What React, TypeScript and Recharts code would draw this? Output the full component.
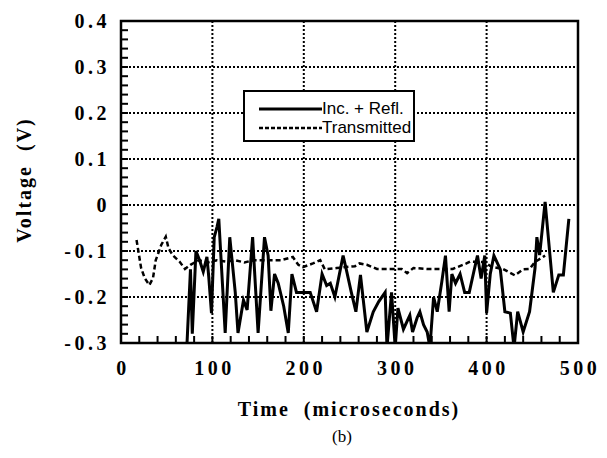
import React from 'react';
import {
  LineChart,
  Line,
  XAxis,
  YAxis,
  CartesianGrid,
  ReferenceArea,
  Legend,
} from 'recharts';

// Inc. + Refl. (solid)
const incTime = [72, 76, 78, 82, 86, 90, 94, 96, 99, 102, 105, 107, 114, 119, 125, 128, 134, 138, 144, 150, 157, 161, 164, 168, 172, 178, 183, 187, 192, 200, 207, 214, 220, 225, 229, 234, 243, 247, 252, 257, 262, 269, 276, 282, 289, 291, 296, 300, 303, 309, 316, 319, 324, 327, 331, 335, 338, 342, 346, 351, 355, 359, 362, 366, 371, 376, 381, 386, 390, 394, 398, 400, 404, 408, 415, 420, 426, 430, 434, 440, 447, 453, 455, 458, 464, 473, 479, 484, 490];
const incVolt = [-0.31, -0.14, -0.28, -0.1, -0.12, -0.145, -0.113, -0.156, -0.235, -0.07, -0.048, -0.03, -0.278, -0.07, -0.19, -0.278, -0.207, -0.228, -0.07, -0.278, -0.07, -0.11, -0.23, -0.15, -0.17, -0.22, -0.278, -0.15, -0.19, -0.19, -0.19, -0.232, -0.15, -0.175, -0.17, -0.2, -0.11, -0.145, -0.19, -0.232, -0.152, -0.276, -0.232, -0.21, -0.19, -0.31, -0.19, -0.31, -0.224, -0.27, -0.24, -0.276, -0.245, -0.232, -0.26, -0.276, -0.31, -0.2, -0.232, -0.167, -0.11, -0.232, -0.15, -0.17, -0.15, -0.19, -0.19, -0.145, -0.11, -0.16, -0.11, -0.235, -0.15, -0.11, -0.14, -0.232, -0.235, -0.31, -0.232, -0.276, -0.232, -0.137, -0.07, -0.109, 0.007, -0.19, -0.152, -0.152, -0.03];

// Transmitted (dashed)
const trTime = [17, 22, 26, 31, 35, 38, 44, 49, 52, 57, 64, 70, 76, 85, 95, 105, 115, 125, 135, 145, 155, 165, 175, 188, 194, 199, 210, 218, 223, 236, 256, 261, 269, 280, 295, 307, 313, 320, 335, 349, 363, 378, 382, 398, 405, 418, 431, 440, 447, 453, 456, 464];
const trVolt = [-0.076, -0.137, -0.159, -0.174, -0.159, -0.12, -0.087, -0.069, -0.094, -0.11, -0.123, -0.139, -0.13, -0.12, -0.125, -0.12, -0.123, -0.12, -0.125, -0.12, -0.12, -0.12, -0.12, -0.113, -0.13, -0.135, -0.127, -0.12, -0.14, -0.137, -0.133, -0.127, -0.13, -0.139, -0.139, -0.139, -0.148, -0.137, -0.139, -0.139, -0.139, -0.127, -0.123, -0.124, -0.134, -0.139, -0.153, -0.14, -0.139, -0.124, -0.12, -0.11];

const xMajor = [0, 100, 200, 300, 400, 500];
const yMajor = [-0.3, -0.2, -0.1, 0, 0.1, 0.2, 0.3, 0.4];

const incData = incTime.map((t, i) => ({ t, v: incVolt[i] }));
const trData = trTime.map((t, i) => ({ t, v: trVolt[i] }));

// minor ticks: every 20 on x, every 0.02 on y
const xTicks: number[] = [];
for (let i = 0; i <= 25; i++) xTicks.push(i * 20);
const yTicks: number[] = [];
for (let i = -15; i <= 20; i++) yTicks.push(i / 50);

const serif = '"Liberation Serif", "Times New Roman", serif';
const sans = '"Liberation Sans", Arial, sans-serif';

const isMajorY = (v: number) => yMajor.some(m => Math.abs(m - v) < 1e-6);

const YTick = ({ x, y, payload }: any) => {
  const v = payload.value;
  const label = String(Math.round(v * 10) / 10);
  return (
    <g>
      <line x1={x} x2={x + 7} y1={y} y2={y} stroke="#000" strokeWidth={2} />
      {isMajorY(v) && (
        <text x={x - 11} y={y + 7} textAnchor="end" fontFamily={serif} fontWeight="bold" fontSize={20} letterSpacing={3.5} fill="#000">
          {label}
        </text>
      )}
    </g>
  );
};

const XTick = ({ x, y, payload }: any) => {
  const v = payload.value;
  return (
    <g>
      <line x1={x} x2={x} y1={y} y2={y - 7} stroke="#000" strokeWidth={2} />
      {xMajor.includes(v) && (
        <text x={x + 2} y={y + 32} textAnchor="middle" fontFamily={serif} fontWeight="bold" fontSize={20} letterSpacing={3.5} fill="#000">
          {v}
        </text>
      )}
    </g>
  );
};

const LegendBox = () => (
  <div
    style={{
      width: 168,
      height: 48,
      border: '2px solid #000',
      background: '#fff',
      fontFamily: sans,
      fontSize: 17,
      color: '#000',
      position: 'relative',
    }}
  >
    <svg width={70} height={48} style={{ position: 'absolute', left: 12, top: 0 }}>
      <line x1={2} x2={65} y1={17} y2={17} stroke="#000" strokeWidth={3} />
      <line x1={2} x2={65} y1={36} y2={36} stroke="#000" strokeWidth={2.5} strokeDasharray="4 2" />
    </svg>
    <div style={{ position: 'absolute', left: 77, top: 7, lineHeight: '19px', whiteSpace: 'nowrap' }}>
      Inc. + Refl.
      <br />
      Transmitted
    </div>
  </div>
);

export default function App() {
  return (
    <div style={{ position: 'relative', width: 607, height: 458, background: '#fff' }}>
      <style>{'body{margin:0}'}</style>
      <LineChart width={607} height={458} margin={{ top: 21, right: 29, left: 61, bottom: 75 }}>
        <CartesianGrid
          stroke="#000"
          strokeWidth={2}
          strokeDasharray="2 2"
          horizontalValues={[-0.2, -0.1, 0, 0.1, 0.2, 0.3]}
          verticalValues={[100, 200, 300, 400]}
        />
        <XAxis
          type="number"
          dataKey="t"
          domain={[0, 500]}
          ticks={xTicks}
          interval={0}
          allowDataOverflow
          tickSize={0}
          tickMargin={0}
          axisLine={false}
          tickLine={false}
          tick={<XTick />}
          height={40}
          label={{
            content: () => (
              <text x={349} y={416} textAnchor="middle" fontFamily={serif} fontWeight="bold" fontSize={20} letterSpacing={2} fill="#000" style={{ whiteSpace: 'pre' }}>
                {'Time  (microseconds)'}
              </text>
            ),
          }}
        />
        <YAxis
          type="number"
          domain={[-0.3, 0.4]}
          ticks={yTicks}
          interval={0}
          allowDataOverflow
          tickSize={0}
          tickMargin={0}
          axisLine={false}
          tickLine={false}
          tick={<YTick />}
          width={60}
          label={{
            content: () => (
              <text x={0} y={0} transform="translate(31,180) rotate(-90)" textAnchor="middle" fontFamily={serif} fontWeight="bold" fontSize={20} letterSpacing={2} fill="#000" style={{ whiteSpace: 'pre' }}>
                {'Voltage  (V)'}
              </text>
            ),
          }}
        />
        <ReferenceArea x1={0} x2={500} y1={-0.3} y2={0.4} fill="none" stroke="#000" strokeWidth={2.5} ifOverflow="visible" />
        <Line data={trData} dataKey="v" type="linear" stroke="#000" strokeWidth={2.5} strokeDasharray="5 3" dot={false} isAnimationActive={false} />
        <Line data={incData} dataKey="v" type="linear" stroke="#000" strokeWidth={3} dot={false} isAnimationActive={false} />
        <Legend
          layout="horizontal"
          verticalAlign="middle"
          align="center"
          content={() => <LegendBox />}
          wrapperStyle={{ left: 243, top: 90, width: 172, height: 52 }}
        />
      </LineChart>
      <div style={{ position: 'absolute', left: 332, top: 427, fontFamily: serif, fontSize: 17, color: '#000' }}>(b)</div>
    </div>
  );
}
